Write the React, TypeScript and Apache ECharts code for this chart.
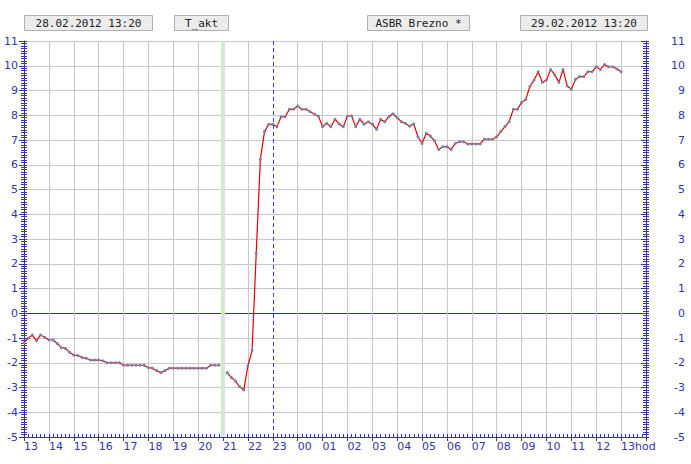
import React, { useEffect, useRef } from "react";
import * as echarts from "echarts";

// 10-minute readings from 28.02.2012 13:00 to 29.02.2012 13:00 (null = missing)
const startHour = 13;
const stepMinutes = 10;
const temperatures: (number | null)[] = [
  -1.19, -1.01, -0.88, -1.11, -0.88, -0.97, -1.08, -1.08, -1.22, -1.39,
  -1.42, -1.58, -1.69, -1.71, -1.79, -1.82, -1.89, -1.89, -1.89, -1.92,
  -2.0, -2.0, -2.0, -2.0, -2.1, -2.1, -2.1, -2.1, -2.1, -2.1,
  -2.2, -2.22, -2.32, -2.4, -2.32, -2.22, -2.22, -2.22, -2.22, -2.22,
  -2.22, -2.22, -2.22, -2.22, -2.22, -2.1, -2.1, -2.1, null, -2.4,
  -2.6, -2.74, -2.97, -3.1, -2.12, -1.51, 2.42, 6.22, 7.34, 7.63,
  7.63, 7.54, 7.94, 7.94, 8.24, 8.24, 8.37, 8.24, 8.24, 8.14,
  8.05, 7.96, 7.54, 7.67, 7.54, 7.84, 7.65, 7.54, 7.97, 7.97,
  7.54, 7.84, 7.64, 7.74, 7.64, 7.43, 7.84, 7.74, 7.94, 8.06,
  7.9, 7.74, 7.67, 7.56, 7.65, 7.13, 6.86, 7.27, 7.16, 6.97,
  6.62, 6.73, 6.73, 6.62, 6.86, 6.93, 6.93, 6.84, 6.84, 6.84,
  6.84, 7.03, 7.03, 7.03, 7.13, 7.34, 7.54, 7.74, 8.24, 8.24,
  8.52, 8.64, 9.16, 9.42, 9.76, 9.33, 9.42, 9.85, 9.63, 9.33,
  9.85, 9.18, 9.05, 9.45, 9.56, 9.56, 9.76, 9.76, 9.96, 9.85,
  10.05, 9.96, 9.96, 9.87, 9.76,
];

const headerTexts = ["28.02.2012 13:20", "T_akt", "ASBR Brezno *", "29.02.2012 13:20"];
const unitText = "hod";
const yMin = -5;
const yMax = 11;
const xMin = 13;
const xMax = 38;
const missingMarkHour = 21;
const dayMarkHour = 23;

const BLUE = "#3535a5";
const GRID = "#c8c8c8";
const ZERO = "#2a2ab4";

export default function App() {
  const ref = useRef<HTMLDivElement>(null);
  useEffect(() => {
    if (!ref.current) return;
    const chart = echarts.init(ref.current, null, { renderer: "svg" });
    const seriesData = temperatures.map((v, i) => [
      startHour + (i * stepMinutes) / 60,
      v === null ? "-" : v,
    ]);
    const xLabel = (v: number) => {
      if (v > 37.5) return "";
      const hh = Math.round(v) % 24;
      return hh < 10 ? "0" + hh : String(hh);
    };
    // horizontal grid colours: the zero line is dark blue
    const ySplitColors: string[] = [];
    for (let v = yMin; v <= yMax; v++) ySplitColors.push(v === 0 ? ZERO : GRID);
    // vertical grid colours: the missing-data hour is green, the day mark is drawn separately
    const xSplitColors: string[] = [];
    for (let h = xMin; h <= xMax; h++) {
      xSplitColors.push(h === missingMarkHour ? "#d2ead2" : h === dayMarkHour ? "rgba(0,0,0,0)" : GRID);
    }
    const labelFont = { fontFamily: "DejaVu Sans", fontSize: 11, color: BLUE };
    const boxes = [
      { x: 24, w: 128 },
      { x: 174, w: 54 },
      { x: 367, w: 102 },
      { x: 520, w: 127 },
    ];
    const graphics: any[] = [];
    boxes.forEach((b, k) => {
      graphics.push({
        type: "rect",
        shape: { x: b.x + 0.5, y: 15.5, width: b.w, height: 15 },
        style: { fill: "#ececec", stroke: "#b0b0b0", lineWidth: 1 },
        silent: true,
      });
      graphics.push({
        type: "text",
        x: b.x + b.w / 2 + 0.5,
        y: 23.5,
        style: {
          text: headerTexts[k],
          fill: "#222222",
          font: "11px 'DejaVu Sans Mono'",
          align: "center",
          verticalAlign: "middle",
        },
        silent: true,
      });
    });
    graphics.push({
      type: "text",
      x: 635,
      y: 441,
      style: { text: unitText, fill: BLUE, font: "11px 'DejaVu Sans'", align: "left", verticalAlign: "top" },
      silent: true,
    });

    const baseY = {
      type: "value",
      min: yMin,
      max: yMax,
      interval: 1,
      minorTick: { show: true, splitNumber: 10, length: 3, lineStyle: { color: BLUE } },
      minorSplitLine: { show: false },
    };
    const baseX = {
      type: "value",
      min: xMin,
      max: xMax,
      interval: 1,
      position: "bottom",
    };

    chart.setOption({
      animation: false,
      backgroundColor: "#ffffff",
      grid: { left: 24, right: 45, top: 41, bottom: 27, containLabel: false },
      graphic: graphics,
      xAxis: [
        {
          ...baseX,
          axisLine: { show: true, onZero: false, lineStyle: { color: BLUE } },
          axisTick: { show: true, inside: false, length: 4, lineStyle: { color: BLUE } },
          axisLabel: { ...labelFont, align: "left", margin: 4, formatter: xLabel, showMaxLabel: true, showMinLabel: true },
          splitLine: { show: true, lineStyle: { color: xSplitColors, width: 1 } },
        },
        {
          ...baseX,
          axisLine: { show: false, onZero: false },
          axisTick: { show: true, inside: true, length: 3, lineStyle: { color: BLUE } },
          minorTick: { show: true, splitNumber: 6, length: 3, lineStyle: { color: BLUE } },
          axisLabel: { show: false },
          splitLine: { show: false },
        },
      ],
      yAxis: [
        {
          ...baseY,
          position: "left",
          axisLine: { show: true, onZero: false, lineStyle: { color: BLUE } },
          axisTick: { show: true, inside: false, length: 5, lineStyle: { color: BLUE } },
          axisLabel: { ...labelFont, margin: 6, align: "right" },
          splitLine: { show: true, lineStyle: { color: ySplitColors, width: 1 } },
        },
        {
          ...baseY,
          position: "left",
          axisLine: { show: false, onZero: false },
          axisTick: { show: true, inside: true, length: 3, lineStyle: { color: BLUE } },
          axisLabel: { show: false },
          splitLine: { show: false },
        },
        {
          ...baseY,
          position: "right",
          axisLine: { show: true, onZero: false, lineStyle: { color: BLUE } },
          axisTick: { show: true, inside: false, length: 3, lineStyle: { color: BLUE } },
          axisLabel: { ...labelFont, margin: 39, align: "right" },
          splitLine: { show: false },
        },
        {
          ...baseY,
          position: "right",
          axisLine: { show: false, onZero: false },
          axisTick: { show: true, inside: true, length: 5, lineStyle: { color: BLUE } },
          axisLabel: { show: false },
          splitLine: { show: false },
        },
      ],
      series: [
        {
          type: "line",
          xAxisIndex: 0,
          yAxisIndex: 0,
          data: seriesData,
          connectNulls: false,
          showSymbol: true,
          symbol: "circle",
          symbolSize: 3,
          itemStyle: { color: "#7880a8" },
          lineStyle: { color: "#e00000", width: 1.2 },
          z: 5,
          markLine: {
            silent: true,
            symbol: "none",
            label: { show: false },
            animation: false,
            lineStyle: { color: "#3a3ad0", width: 1, type: [4, 3], opacity: 1 },
            emphasis: { disabled: true },
            data: [
              { xAxis: missingMarkHour, lineStyle: { color: "#d2ead2", width: 4, type: "solid" } },
              { xAxis: dayMarkHour },
            ],
          },
        },
      ],
    });
    return () => chart.dispose();
  }, []);
  return (
    <div
      ref={ref}
      style={{ position: "fixed", left: 0, top: 0, width: 691, height: 464, background: "#fff" }}
    />
  );
}
